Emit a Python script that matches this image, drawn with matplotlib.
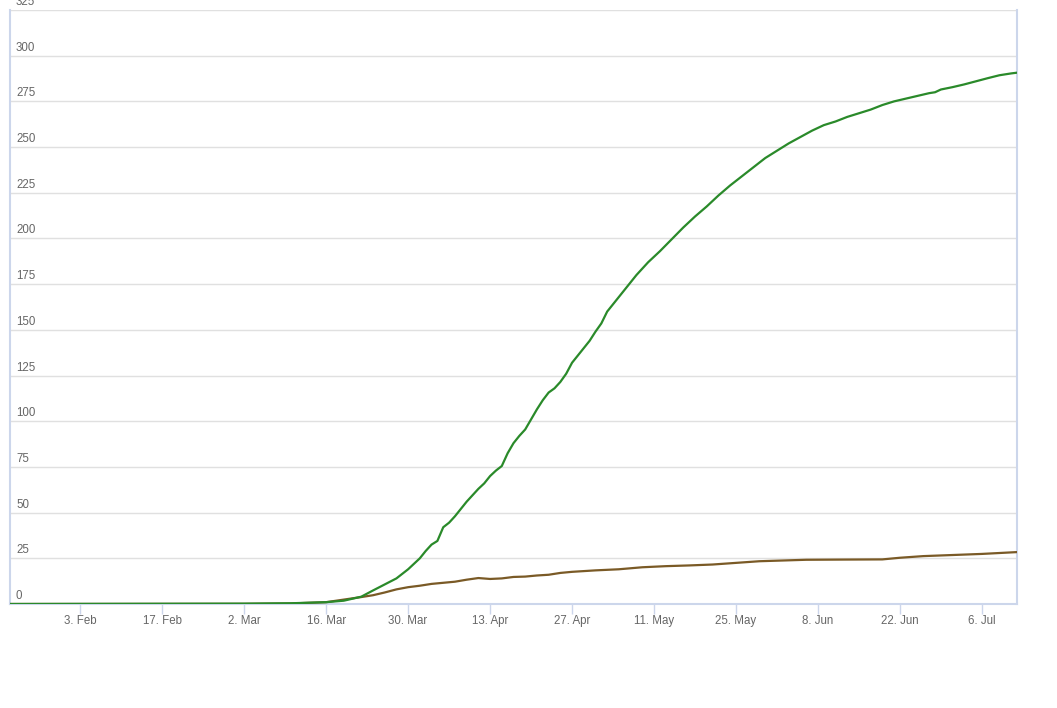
import matplotlib
matplotlib.use("Agg")
import matplotlib.pyplot as plt
import matplotlib.transforms as mtransforms
import pandas as pd

green_dates = ["2020-01-22", "2020-03-02", "2020-03-10", "2020-03-16", "2020-03-19", "2020-03-22",
               "2020-03-24", "2020-03-26", "2020-03-28", "2020-03-30", "2020-04-01", "2020-04-02",
               "2020-04-03", "2020-04-04", "2020-04-05", "2020-04-06", "2020-04-07", "2020-04-08",
               "2020-04-09", "2020-04-10", "2020-04-11", "2020-04-12", "2020-04-13", "2020-04-14",
               "2020-04-15", "2020-04-16", "2020-04-17", "2020-04-18", "2020-04-19", "2020-04-20",
               "2020-04-21", "2020-04-22", "2020-04-23", "2020-04-24", "2020-04-25", "2020-04-26",
               "2020-04-27", "2020-04-28", "2020-04-29", "2020-04-30", "2020-05-01", "2020-05-02",
               "2020-05-03", "2020-05-04", "2020-05-05", "2020-05-06", "2020-05-08", "2020-05-10",
               "2020-05-12", "2020-05-14", "2020-05-16", "2020-05-18", "2020-05-20", "2020-05-22",
               "2020-05-24", "2020-05-26", "2020-05-28", "2020-05-30", "2020-06-01", "2020-06-03",
               "2020-06-05", "2020-06-07", "2020-06-09", "2020-06-11", "2020-06-13", "2020-06-15",
               "2020-06-17", "2020-06-19", "2020-06-21", "2020-06-23", "2020-06-25", "2020-06-27",
               "2020-06-28", "2020-06-29", "2020-07-01", "2020-07-03", "2020-07-05", "2020-07-07",
               "2020-07-09", "2020-07-11", "2020-07-12"]
green_values = [0, 0.2, 0.4, 1, 1.8, 4,
                7.4, 10.7, 14, 19, 25, 29,
                32.5, 34.5, 42, 44.5, 48, 52,
                56, 59.5, 63, 66, 70, 73,
                75.5, 82.5, 88, 92, 95.5, 101,
                106.5, 111.5, 115.7, 118, 121.5, 126,
                132, 136, 140, 144, 149, 153.5,
                160, 164, 168, 172, 180, 187,
                193, 199.5, 206, 212, 217.5, 223.5,
                229, 234, 239, 244, 248, 252,
                255.5, 259, 262, 264, 266.5, 268.5,
                270.5, 273, 275, 276.5, 278, 279.5,
                280, 281.5, 282.8, 284.3, 286, 287.7,
                289.3, 290.3, 290.7]

brown_dates = ["2020-01-22", "2020-03-02", "2020-03-10", "2020-03-16", "2020-03-22", "2020-03-24",
               "2020-03-26", "2020-03-28", "2020-03-30", "2020-04-01", "2020-04-03", "2020-04-05",
               "2020-04-07", "2020-04-09", "2020-04-11", "2020-04-13", "2020-04-15", "2020-04-17",
               "2020-04-19", "2020-04-21", "2020-04-23", "2020-04-25", "2020-04-27", "2020-04-29",
               "2020-05-01", "2020-05-05", "2020-05-09", "2020-05-13", "2020-05-17", "2020-05-21",
               "2020-05-25", "2020-05-29", "2020-06-02", "2020-06-06", "2020-06-12", "2020-06-19",
               "2020-06-22", "2020-06-26", "2020-07-01", "2020-07-06", "2020-07-12"]
brown_values = [0, 0.1, 0.3, 1, 3.8, 4.8,
                6.3, 8, 9.2, 10, 11, 11.6,
                12.2, 13.3, 14.2, 13.7, 14, 14.8,
                15, 15.6, 16, 17, 17.6, 18,
                18.4, 19, 20.1, 20.7, 21.1, 21.6,
                22.5, 23.4, 23.8, 24.2, 24.3, 24.4,
                25.3, 26.2, 26.8, 27.4, 28.4]

y_ticks = [0, 25, 50, 75, 100, 125, 150, 175, 200, 225, 250, 275, 300, 325]
x_tick_dates = ["2020-02-03", "2020-02-17", "2020-03-02", "2020-03-16", "2020-03-30", "2020-04-13",
                "2020-04-27", "2020-05-11", "2020-05-25", "2020-06-08", "2020-06-22", "2020-07-06"]
x_tick_labels = ["3. Feb", "17. Feb", "2. Mar", "16. Mar", "30. Mar", "13. Apr",
                 "27. Apr", "11. May", "25. May", "8. Jun", "22. Jun", "6. Jul"]

plt.rcParams['font.family'] = ['Liberation Sans', 'DejaVu Sans']

W, H = 1057, 708
fig = plt.figure(figsize=(W / 100, H / 100), dpi=100)
ax = fig.add_axes([10 / W, (H - 604) / H, 1007 / W, 594 / H])

gd = pd.to_datetime(green_dates)
bd = pd.to_datetime(brown_dates)
ax.plot(bd, brown_values, color="#7a5a26", lw=1.6, zorder=3, solid_joinstyle="round")
ax.plot(gd, green_values, color="#2a8a2a", lw=1.6, zorder=4, solid_joinstyle="round")

ax.set_xlim(pd.Timestamp("2020-01-22"), pd.Timestamp("2020-07-12"))
ax.set_ylim(0, 325)

ax.set_yticks(y_ticks)
ax.yaxis.grid(True, color="#e0e0e0", lw=1)
ax.set_axisbelow(True)
ax.tick_params(axis="y", length=0, labelleft=False)
trans = mtransforms.blended_transform_factory(ax.transAxes, ax.transData)
for v in y_ticks:
    ax.annotate(str(v), xy=(0, v), xycoords=trans, xytext=(6, 2), textcoords="offset pixels",
                ha="left", va="bottom", fontsize=8.3, color="#666666")

ax.set_xticks(pd.to_datetime(x_tick_dates))
ax.set_xticklabels(x_tick_labels)
ax.tick_params(axis="x", length=10 * 0.72, width=1, color="#ccd6eb", labelsize=8.3,
               labelcolor="#666666", pad=1)

ax.spines["top"].set_visible(False)
for s in ["left", "right", "bottom"]:
    ax.spines[s].set_color("#ccd6eb")
    ax.spines[s].set_linewidth(1.5)

fig.savefig("out.png", dpi=100)
